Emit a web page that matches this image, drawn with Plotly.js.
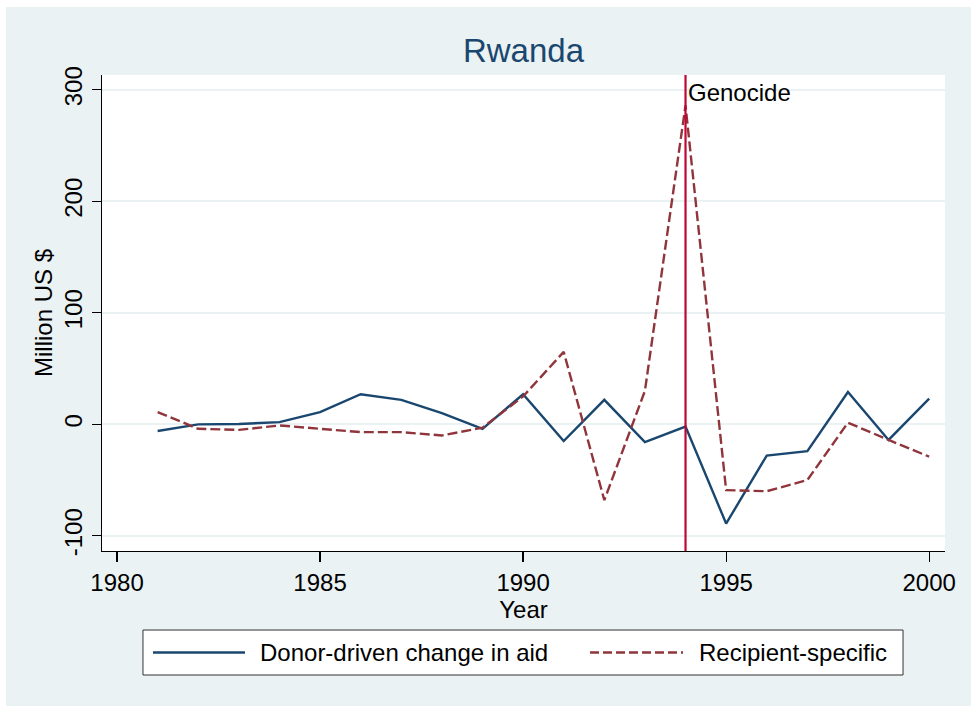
<!DOCTYPE html>
<html>
<head>
<meta charset="utf-8">
<script src="https://cdn.plot.ly/plotly-3.0.1.min.js"></script>
<style>
  html, body { margin: 0; padding: 0; background: #ffffff; width: 971px; height: 706px; overflow: hidden; }
  #chart { position: absolute; left: 6px; top: 7px; width: 965px; height: 699px; }
</style>
</head>
<body>
<div id="chart"></div>
<script>
// ---- data ----
const years = [1981, 1982, 1983, 1984, 1985, 1986, 1987, 1988, 1989, 1990,
               1991, 1992, 1993, 1994, 1995, 1996, 1997, 1998, 1999, 2000];
const donorDriven = [-6, 0, 0.3, 2, 11, 27, 22, 10, -4, 27,
                     -15, 22, -16, -2, -89, -28, -24, 29, -14, 23];
const recipientSpecific = [11, -4, -5, -1, -4, -7, -7, -10, -3, 25,
                           65, -68, 30, 286, -59, -60, -50, 1.5, -14, -29];
const seriesNames = ["Donor-driven change in aid", "Recipient-specific"];
const xTicks = [1980, 1985, 1990, 1995, 2000];
const yTicks = [-100, 0, 100, 200, 300];
const eventYear = 1994;
const eventLabel = "Genocide";
const chartTitle = "Rwanda";
const xTitle = "Year";
const yTitle = "Million US $";

const navy = "#1a476f";
const maroon = "#90353b";
const font = "Liberation Sans, Arial, sans-serif";

const traces = [
  { x: years, y: donorDriven, name: seriesNames[0], type: "scatter", mode: "lines",
    line: { color: navy, width: 2.4 }, showlegend: false },
  { x: years, y: recipientSpecific, name: seriesNames[1], type: "scatter", mode: "lines",
    line: { color: maroon, width: 2.4, dash: "10px,4px" }, showlegend: false }
];

// manual legend box (paper coordinates)
const shapes = [
  { type: "line", xref: "x", yref: "paper", x0: eventYear, x1: eventYear, y0: 0, y1: 1,
    line: { color: "#c10534", width: 2.2 } },
  { type: "rect", xref: "paper", yref: "paper", x0: 0.0486, x1: 0.9502, y0: -0.166, y1: -0.2605,
    fillcolor: "#ffffff", line: { color: "#333333", width: 1 } },
  { type: "line", xref: "paper", yref: "paper", x0: 0.0605, x1: 0.1696, y0: -0.2133, y1: -0.2133,
    line: { color: navy, width: 2.4 } },
  { type: "line", xref: "paper", yref: "paper", x0: 0.5789, x1: 0.6892, y0: -0.2133, y1: -0.2133,
    line: { color: maroon, width: 2.4, dash: "9px,4px" } }
];

const annotations = [
  { xref: "x", yref: "paper", x: eventYear, y: 0.964, text: eventLabel, showarrow: false,
    xanchor: "left", yanchor: "middle", xshift: 0, font: { family: font, size: 24, color: "#000000" } },
  { xref: "paper", yref: "paper", x: 0.1851, y: -0.2133, text: seriesNames[0], showarrow: false,
    xanchor: "left", yanchor: "middle", font: { family: font, size: 24, color: "#000000" } },
  { xref: "paper", yref: "paper", x: 0.7058, y: -0.2133, text: seriesNames[1], showarrow: false,
    xanchor: "left", yanchor: "middle", font: { family: font, size: 24, color: "#000000" } }
];

const layout = {
  width: 965, height: 699,
  margin: { l: 96, r: 26, t: 68, b: 155, pad: 0 },
  paper_bgcolor: "#eaf2f3",
  plot_bgcolor: "#ffffff",
  font: { family: font, color: "#000000" },
  title: { text: chartTitle, x: 0.5, xref: "paper", y: 0.9385, yref: "container",
           xanchor: "center", yanchor: "middle", font: { family: font, size: 33, color: navy } },
  xaxis: {
    range: [1979.63, 2000.39], tickvals: xTicks, ticktext: xTicks.map(String),
    ticks: "outside", ticklen: 10, tickwidth: 1.2, tickcolor: "#000000",
    showline: true, linecolor: "#000000", linewidth: 1.3, mirror: false,
    showgrid: false, zeroline: false,
    tickfont: { family: font, size: 24, color: "#000000" },
    title: { text: xTitle, standoff: 0, font: { family: font, size: 24, color: "#000000" } }
  },
  yaxis: {
    range: [-113.6, 313.3], tickvals: yTicks, ticktext: yTicks.map(String),
    ticks: "outside", ticklen: 9, tickwidth: 1.2, tickcolor: "#000000", tickangle: -90,
    showline: true, linecolor: "#000000", linewidth: 1.3,
    showgrid: true, gridcolor: "#eaf2f3", gridwidth: 1.8, zeroline: false,
    tickfont: { family: font, size: 24, color: "#000000" },
    title: { text: yTitle, standoff: 0, font: { family: font, size: 24, color: "#000000" } }
  },
  shapes: shapes,
  annotations: annotations,
  showlegend: false
};

Plotly.newPlot("chart", traces, layout, { displayModeBar: false, staticPlot: true });
</script>
</body>
</html>
